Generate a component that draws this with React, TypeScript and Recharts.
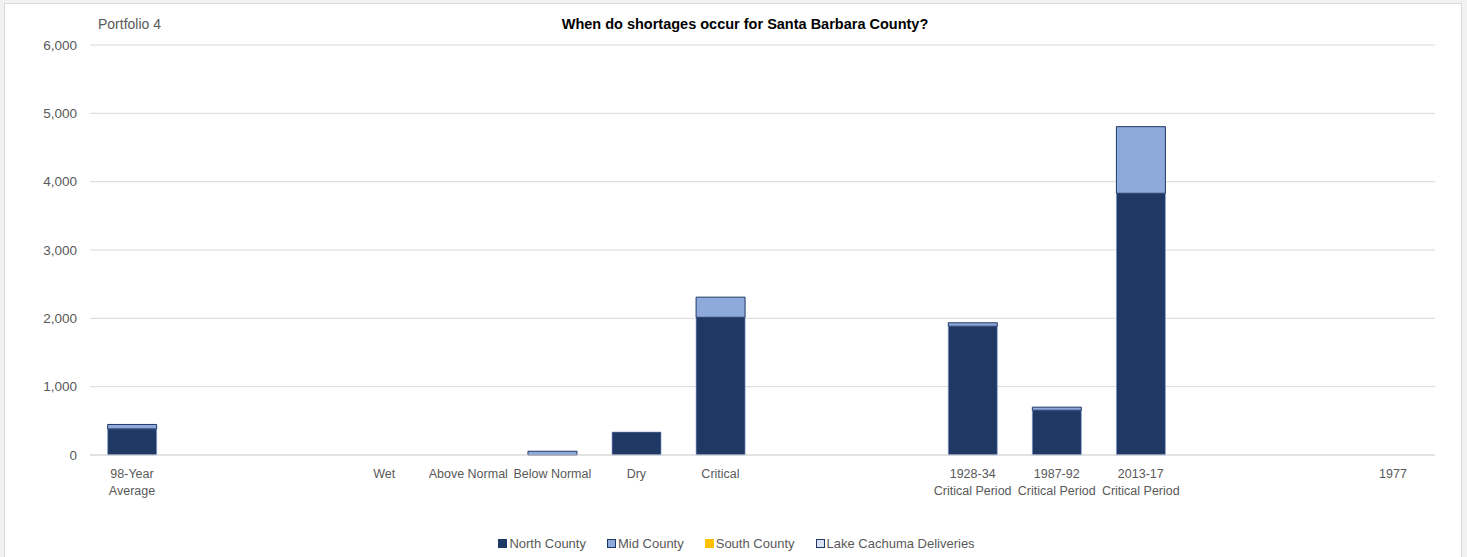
import React from "react";
import { BarChart, Bar, XAxis, YAxis, CartesianGrid, Legend } from "recharts";

const categoryIds = ["c0","c1","c2","c3","c4","c5","c6","c7","c8","c9","c10","c11","c12","c13","c14","c15"];
const tickLabels: string[][] = [
  ["98-Year", "Average"], [], [], ["Wet"], ["Above Normal"], ["Below Normal"], ["Dry"], ["Critical"], [], [],
  ["1928-34", "Critical Period"], ["1987-92", "Critical Period"], ["2013-17", "Critical Period"], [], [], ["1977"],
];
const northCounty = [382, 0, 0, 0, 0, 0, 337, 2015, 0, 0, 1885, 655, 3830, 0, 0, 0];
const midCounty = [65, 0, 0, 0, 0, 55, 0, 295, 0, 0, 50, 45, 975, 0, 0, 0];
const southCounty = [0, 0, 0, 0, 0, 0, 0, 0, 0, 0, 0, 0, 0, 0, 0, 0];
const lakeCachuma = [0, 0, 0, 0, 0, 0, 0, 0, 0, 0, 0, 0, 0, 0, 0, 0];
const yTicks = [0, 1000, 2000, 3000, 4000, 5000, 6000];

const data = categoryIds.map((id, i) => ({
  id,
  north: northCounty[i],
  mid: midCounty[i],
  south: southCounty[i],
  lake: lakeCachuma[i],
}));

const FONT = "'Liberation Sans', Arial, sans-serif";
const GREY = "#595959";

const CatTick = (props: any) => {
  const { x, y, payload } = props;
  const idx = categoryIds.indexOf(payload.value);
  const lines = idx >= 0 ? tickLabels[idx] : [];
  return (
    <text x={x} y={y} textAnchor="middle" fill={GREY} fontSize={12.5} fontFamily={FONT}>
      {lines.map((l, k) => (
        <tspan key={k} x={x} dy={k === 0 ? 15 : 17}>{l}</tspan>
      ))}
    </text>
  );
};

const legendItems = [
  { label: "North County", fill: "#1F3864", stroke: "#1F3864" },
  { label: "Mid County", fill: "#8EA9DB", stroke: "#1F3864" },
  { label: "South County", fill: "#FFC000", stroke: "#FFC000" },
  { label: "Lake Cachuma Deliveries", fill: "#D9E1F2", stroke: "#1F3864" },
];

const LegendContent = () => (
  <div style={{ display: "flex", justifyContent: "center", fontFamily: FONT, fontSize: 13, color: GREY, paddingLeft: 6 }}>
    {legendItems.map((it, i) => (
      <div key={i} style={{ display: "flex", alignItems: "center", marginRight: i === 3 ? 0 : 21 }}>
        <span style={{ display: "inline-block", width: 7, height: 7, background: it.fill, border: `1px solid ${it.stroke}`, marginRight: 2 }} />
        <span>{it.label}</span>
      </div>
    ))}
  </div>
);

export default function App() {
  return (
    <div style={{ position: "fixed", left: 0, top: 0, width: 1467, height: 557, background: "#f2f2f2", overflow: "hidden" }}>
      <div style={{ position: "absolute", left: 4, top: 3, width: 1456, height: 560, background: "#fff", border: "1px solid #d9d9d9" }} />
      <div style={{ position: "absolute", left: 98, top: 16, fontFamily: FONT, fontSize: 14, color: GREY }}>Portfolio 4</div>
      <div style={{ position: "absolute", left: 0, width: 1490, top: 16, textAlign: "center", fontFamily: FONT, fontSize: 14.5, fontWeight: "bold", color: "#000" }}>
        When do shortages occur for Santa Barbara County?
      </div>
      <div style={{ position: "absolute", left: 0, top: 0 }}>
        <BarChart width={1467} height={557} data={data} margin={{ top: 45, right: 32, left: 0, bottom: 47 }} barCategoryGap="21%">
          <CartesianGrid vertical={false} stroke="#d9d9d9" />
          <XAxis dataKey="id" interval={0} tick={<CatTick />} tickLine={false} axisLine={{ stroke: "#d9d9d9" }} height={40} />
          <YAxis width={90} domain={[0, 6000]} ticks={yTicks} tickLine={false} axisLine={false} tickMargin={7}
            tickFormatter={(v: number) => v.toLocaleString("en-US")}
            tick={{ fill: GREY, fontSize: 13.5, fontFamily: FONT }} />
          <Legend content={<LegendContent />} wrapperStyle={{ top: 536, left: 0, width: 1467 }} />
          <Bar dataKey="north" name="North County" stackId="a" fill="#1F3864" stroke="#7F9BCF" strokeWidth={0.6} isAnimationActive={false} />
          <Bar dataKey="mid" name="Mid County" stackId="a" fill="#8EA9DB" stroke="#1F3864" strokeWidth={1} isAnimationActive={false} />
          <Bar dataKey="south" name="South County" stackId="a" fill="#FFC000" isAnimationActive={false} />
          <Bar dataKey="lake" name="Lake Cachuma Deliveries" stackId="a" fill="#D9E1F2" stroke="#1F3864" isAnimationActive={false} />
        </BarChart>
      </div>
    </div>
  );
}
